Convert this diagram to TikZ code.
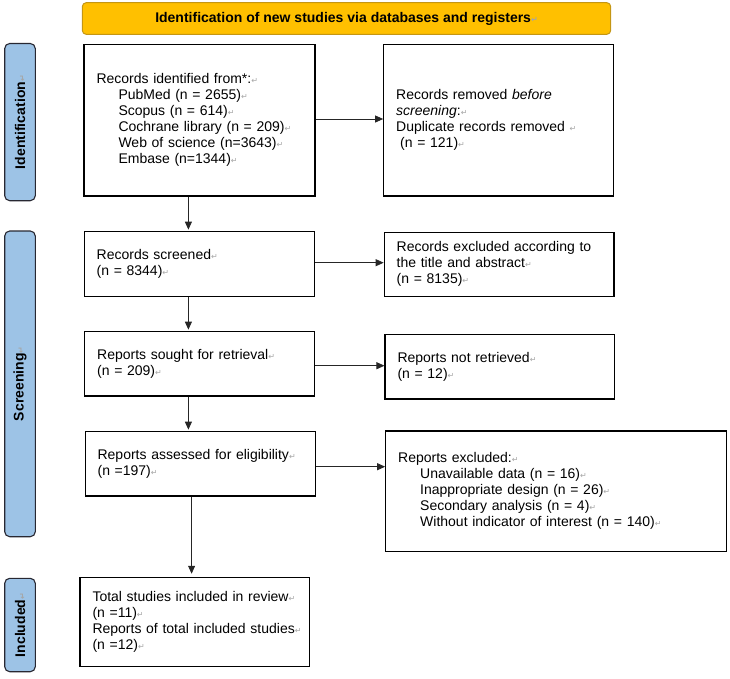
\documentclass[tikz,border=0pt]{standalone}
\usepackage{fontspec}
\setmainfont{Liberation Sans}
\newfontfamily\dejavu{DejaVu Sans}
\usetikzlibrary{arrows.meta}
\newcommand\retmark{{\dejavu\fontsize{8}{8}\selectfont\textcolor{black!35}{↵}}}
\newcommand\myind{\hspace*{22pt}}
\definecolor{hdrfill}{RGB}{255,192,0}
\definecolor{hdrdraw}{RGB}{196,150,20}
\definecolor{barfill}{RGB}{157,195,230}
\definecolor{bardraw}{RGB}{40,40,50}
\hyphenpenalty=10000
\exhyphenpenalty=10000
\hbadness=10000
\hfuzz=50pt
\begin{document}
\begin{tikzpicture}[x=1pt,y=-1pt,
  font=\fontsize{14}{16}\selectfont,
  box/.style={draw=black, line width=1.1pt, rectangle, align=left,
    inner xsep=12.5pt, inner ysep=0pt, fill=white},
  arr/.style={-{Triangle[length=8pt,width=7pt]}, line width=0.8pt, draw=black!85},
  sidebar/.style={draw=bardraw, fill=barfill, line width=1.1pt, rounded corners=5pt,
    rotate=90, font=\fontsize{14}{16}\selectfont\bfseries, inner sep=0pt,
    minimum height=30.6pt},
  header/.style={draw=hdrdraw, fill=hdrfill, line width=1pt, rounded corners=4pt,
    font=\fontsize{14}{16}\selectfont\bfseries, inner sep=0pt}]
\useasboundingbox (0,0) rectangle (730,678);

% header
\node[header, minimum width=528.4pt, minimum height=31.7pt] (hdr) at (346.5,18.5)
  {Identification of new studies via databases and registers\retmark};

% side bars
\node[sidebar, minimum width=157.2pt] (s1) at (20,122.1) {Identification\retmark};
\node[sidebar, minimum width=305.7pt] (s2) at (20,383.85) {Screening\retmark};
\node[sidebar, minimum width=93.4pt] (s3) at (20,625) {Included\retmark};

% boxes
\node[box, minimum width=231pt, minimum height=151.5pt, text width=206pt] (A) at (199.5,120.25)
  {Records identified from*:\retmark\\
   \myind PubMed (n = 2655)\retmark\\
   \myind Scopus (n = 614)\retmark\\
   \myind Cochrane library (n = 209)\retmark\\
   \myind Web of science (n=3643)\retmark\\
   \myind Embase (n=1344)\retmark};
\node[box, minimum width=229.8pt, minimum height=151.5pt, text width=204.8pt] (B) at (498.6,120.25)
  {Records removed \textit{before}\\
   \textit{screening}:\retmark\\
   Duplicate records removed \retmark\\
   \hspace*{4pt}(n = 121)\retmark};
\node[box, minimum width=230.2pt, minimum height=64.6pt, text width=205.2pt] (C) at (199.3,264)
  {Records screened\retmark\\(n = 8344)\retmark};
\node[box, minimum width=229.8pt, minimum height=64pt, text width=204.8pt] (D) at (499.1,264.3)
  {\mbox{Records excluded according to}\\the title and abstract\retmark\\(n = 8135)\retmark};
\node[box, minimum width=230.2pt, minimum height=64.3pt, text width=205.2pt] (E) at (199.8,363.85)
  {Reports sought for retrieval\retmark\\(n = 209)\retmark};
\node[box, minimum width=229.4pt, minimum height=64.7pt, text width=204.4pt] (F) at (499.7,366.65)
  {Reports not retrieved\retmark\\(n = 12)\retmark};
\node[box, minimum width=230.2pt, minimum height=64.3pt, text width=205.2pt] (G) at (200.2,463.85)
  {Reports assessed for eligibility\retmark\\(n =197)\retmark};
\node[box, minimum width=340.8pt, minimum height=120.7pt, text width=315.8pt] (H) at (556.1,491.35)
  {Reports excluded:\retmark\\
   \myind Unavailable data (n = 16)\retmark\\
   \myind Inappropriate design (n = 26)\retmark\\
   \myind Secondary analysis (n = 4)\retmark\\
   \myind Without indicator of interest (n = 140)\retmark};
\node[box, minimum width=229.3pt, minimum height=89.4pt, text width=204.3pt] (I) at (194.65,622)
  {\mbox{Total studies included in review\retmark}\\(n =11)\retmark\\
   \mbox{Reports of total included studies\retmark}\\(n =12)\retmark};

% helper coordinates
\coordinate (vx) at (188.4,0);
\coordinate (vx2) at (191.6,0);
\coordinate (ab) at (0,119);
\coordinate (cd) at (0,262.7);
\coordinate (ef) at (0,365.7);
\coordinate (gh) at (0,466.7);

% arrows
\draw[arr] (A.east |- ab) -- (B.west |- ab);
\draw[arr] (C.east |- cd) -- (D.west |- cd);
\draw[arr] (E.east |- ef) -- (F.west |- ef);
\draw[arr] (G.east |- gh) -- (H.west |- gh);
\draw[arr, shorten >=1.5pt] (A.south -| vx) -- (C.north -| vx);
\draw[arr, shorten >=1.5pt] (C.south -| vx) -- (E.north -| vx);
\draw[arr, shorten >=1.5pt] (E.south -| vx) -- (G.north -| vx);
\draw[arr, shorten >=3pt] (G.south -| vx2) -- (I.north -| vx2);
\end{tikzpicture}
\end{document}
